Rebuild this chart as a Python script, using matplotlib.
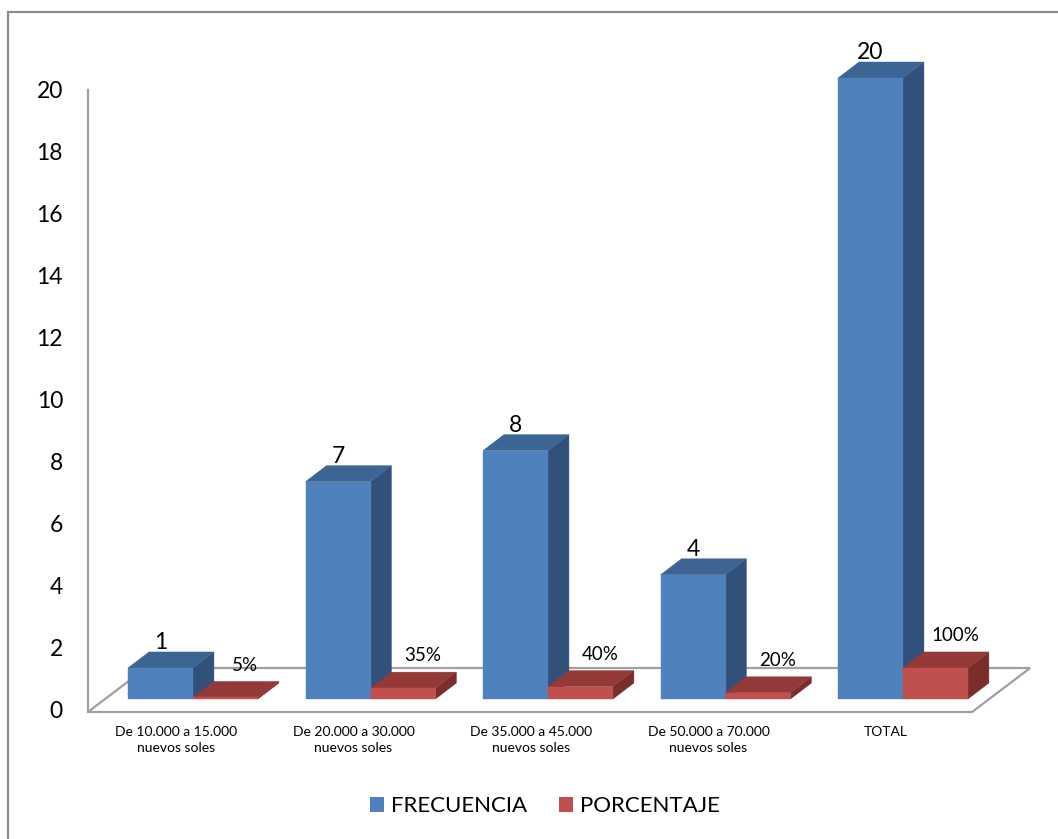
import matplotlib
matplotlib.use("Agg")
import matplotlib.pyplot as plt
from matplotlib.patches import Polygon, Patch, Rectangle
import numpy as np

plt.rcParams['font.family'] = ['Lato', 'DejaVu Sans']

# data
categorias = ["De 10.000 a 15.000\nnuevos soles",
              "De 20.000 a 30.000\nnuevos soles",
              "De 35.000 a 45.000\nnuevos soles",
              "De 50.000 a 70.000\nnuevos soles",
              "TOTAL"]
frecuencia = [1, 7, 8, 4, 20]
porcentaje = [0.05, 0.35, 0.40, 0.20, 1.00]
yticks = [0, 2, 4, 6, 8, 10, 12, 14, 16, 18, 20]

# colours (front, top, side)
BLUE = ("#4F81BD", "#3C6593", "#31517A")
RED = ("#C0504D", "#933A38", "#7A2D2B")
GRID = "#A0A0A0"

W, H = 1058, 839
fig = plt.figure(figsize=(W / 100, H / 100), dpi=100)

# main drawing axes, whole figure
ax = fig.add_axes([0, 0, 1, 1])
ax.set_xlim(-193 / 177.5, (W - 193) / 177.5)
ax.set_ylim(-(H - 699) / 31.05, 699 / 31.05)
ax.axis("off")

bw = 0.366        # bar width
dx, dy = 0.118, 0.515   # bar depth offsets


def box(x0, v, cols):
    x1 = x0 + bw
    front = [(x0, 0), (x1, 0), (x1, v), (x0, v)]
    top = [(x0, v), (x1, v), (x1 + dx, v + dy), (x0 + dx, v + dy)]
    side = [(x1, 0), (x1 + dx, dy), (x1 + dx, v + dy), (x1, v)]
    for pts, c in ((side, cols[2]), (top, cols[1]), (front, cols[0])):
        ax.add_patch(Polygon(pts, closed=True, facecolor=c, edgecolor=c,
                             lw=0.3, zorder=3))


# floor
fx0, fx1, fy = -0.592, 4.389, -0.419
bdx, bdy = 0.327, 1.417
floor = [(fx0, fy), (fx1, fy), (fx1 + bdx, fy + bdy), (fx0 + bdx, fy + bdy)]
ax.add_patch(Polygon(floor, closed=True, facecolor="none", edgecolor=GRID,
                     lw=1.6, zorder=1))
# vertical axis line
ax.plot([fx0, fx0], [fy, 19.61], color=GRID, lw=1.6, zorder=1)

for i, (f, p) in enumerate(zip(frecuencia, porcentaje)):
    box(i - bw, f, BLUE)
    box(i, p, RED)
    ax.text(i - bw / 2, f + dy + 0.1, str(f), ha="center", va="baseline",
            fontsize=16.5, zorder=4)
    ax.text(i + bw / 2 + 0.11, p + dy + 0.35, f"{p * 100:.0f}%",
            ha="center", va="baseline", fontsize=13.5, zorder=4)
    ax.text(i - 0.096, -0.88, categorias[i], ha="center", va="top",
            fontsize=10, linespacing=1.4, zorder=4)

# value axis labels
ax2 = fig.add_axes([88 / W, (H - 710) / H, 0.05, 620 / H])
ax2.set_ylim(0, 20)
ax2.set_yticks(yticks)
ax2.set_yticklabels([str(t) for t in yticks], fontsize=16.5)
ax2.tick_params(axis="y", length=0, pad=18)
ax2.set_xticks([])
for s in ax2.spines.values():
    s.set_visible(False)
ax2.patch.set_alpha(0)

# chart border
fig.patches.append(Rectangle((8 / W, -0.1), 1.2, 0.1 + (H - 12) / H,
                             transform=fig.transFigure, facecolor="none",
                             edgecolor="#8C8C8C", lw=1.6))

handles = [Patch(facecolor=BLUE[0]), Patch(facecolor=RED[0])]
fig.legend(handles, ["FRECUENCIA", "PORCENTAJE"], loc="center",
           bbox_to_anchor=(0.515, 0.039), ncol=2, frameon=False, fontsize=16,
           handlelength=0.63, handleheight=0.63, handletextpad=0.3,
           columnspacing=1.45)

fig.savefig("out.png", dpi=100)
